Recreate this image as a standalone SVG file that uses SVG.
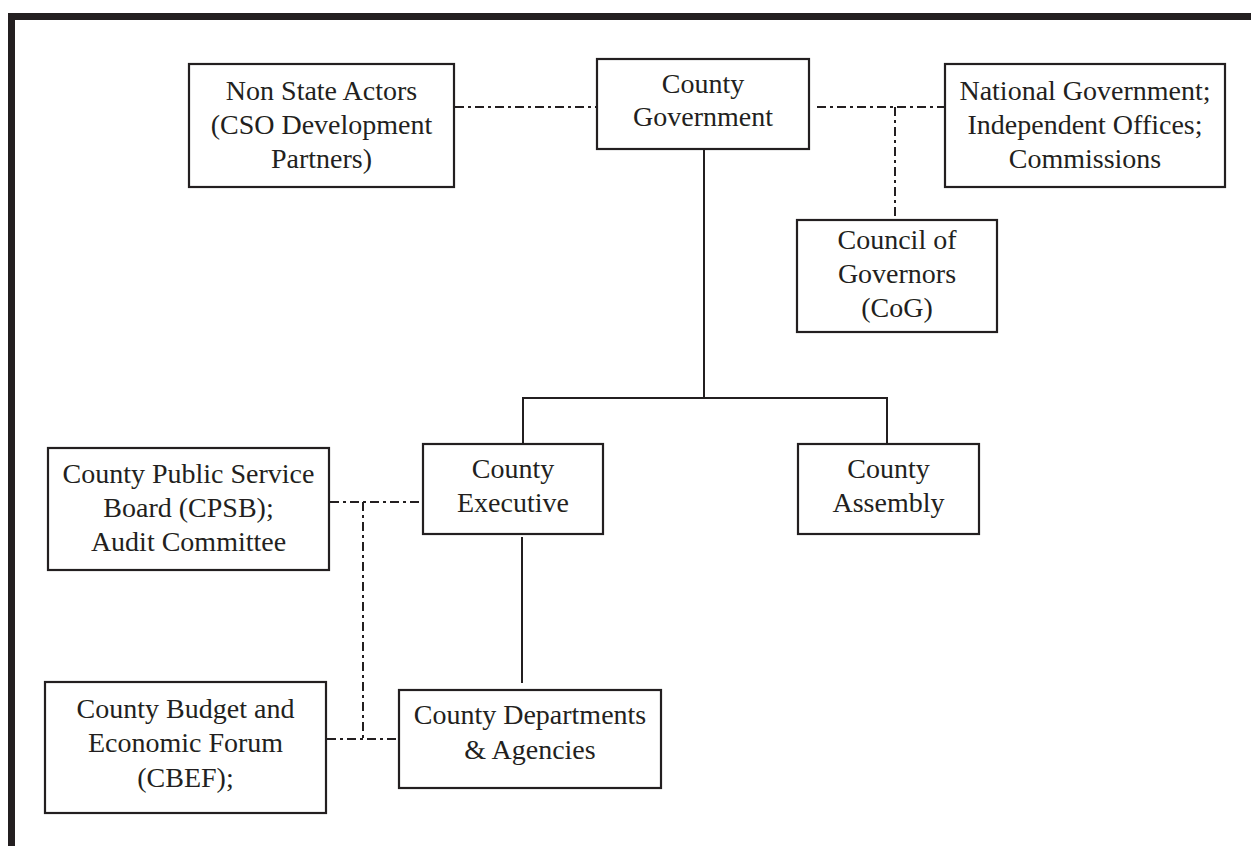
<svg xmlns="http://www.w3.org/2000/svg" width="1251" height="846" viewBox="0 0 1251 846">
<style>
.box{fill:#fff;stroke:#231f20;stroke-width:2.2}
.t{font-family:"Liberation Serif","Times New Roman",serif;font-size:28px;fill:#231f20;text-anchor:middle}
.solid{fill:none;stroke:#231f20;stroke-width:2}
.dash{fill:none;stroke:#231f20;stroke-width:2;stroke-dasharray:9 4 3 4}
</style>
<rect width="1251" height="846" fill="#fff"/>
<g id="frame">
<line x1="8" y1="16.5" x2="1251" y2="16.5" stroke="#231f20" stroke-width="7"/>
<line x1="11.5" y1="13" x2="11.5" y2="846" stroke="#231f20" stroke-width="7"/>
</g>
<g id="connectors">
<line class="dash" x1="455" y1="107" x2="597" y2="107"/>
<line class="dash" x1="817" y1="107" x2="945" y2="107"/>
<line class="dash" x1="895" y1="107" x2="895" y2="219"/>
<line class="solid" x1="704" y1="149" x2="704" y2="398"/>
<polyline class="solid" points="523,444 523,398 887,398 887,444"/>
<line class="solid" x1="522" y1="537" x2="522" y2="683"/>
<line class="dash" x1="330" y1="502" x2="423" y2="502"/>
<line class="dash" x1="363" y1="502" x2="363" y2="739"/>
<line class="dash" x1="327" y1="739" x2="399" y2="739"/>
</g>
<g id="non-state-actors">
<rect class="box" x="189" y="64" width="265" height="123"/>
<text class="t" x="321.5" y="100">Non State Actors</text>
<text class="t" x="321.5" y="134">(CSO Development</text>
<text class="t" x="321.5" y="168">Partners)</text>
</g>
<g id="county-government">
<rect class="box" x="597" y="59" width="212" height="90"/>
<text class="t" x="703" y="93">County</text>
<text class="t" x="703" y="126">Government</text>
</g>
<g id="national-government">
<rect class="box" x="945" y="64" width="280" height="123"/>
<text class="t" x="1085" y="100">National Government;</text>
<text class="t" x="1085" y="134">Independent Offices;</text>
<text class="t" x="1085" y="168">Commissions</text>
</g>
<g id="council-of-governors">
<rect class="box" x="797" y="220" width="200" height="112"/>
<text class="t" x="897" y="249">Council of</text>
<text class="t" x="897" y="283">Governors</text>
<text class="t" x="897" y="317">(CoG)</text>
</g>
<g id="county-executive">
<rect class="box" x="423" y="444" width="180" height="90"/>
<text class="t" x="513" y="478">County</text>
<text class="t" x="513" y="512">Executive</text>
</g>
<g id="county-assembly">
<rect class="box" x="798" y="444" width="181" height="90"/>
<text class="t" x="888.5" y="478">County</text>
<text class="t" x="888.5" y="512">Assembly</text>
</g>
<g id="cpsb">
<rect class="box" x="48" y="448" width="281" height="122"/>
<text class="t" x="188.5" y="483">County Public Service</text>
<text class="t" x="188.5" y="517">Board (CPSB);</text>
<text class="t" x="188.5" y="551">Audit Committee</text>
</g>
<g id="cbef">
<rect class="box" x="45" y="682" width="281" height="131"/>
<text class="t" x="185.5" y="718">County Budget and</text>
<text class="t" x="185.5" y="752">Economic Forum</text>
<text class="t" x="185.5" y="787">(CBEF);</text>
</g>
<g id="county-departments">
<rect class="box" x="399" y="690" width="262" height="98"/>
<text class="t" x="530" y="724">County Departments</text>
<text class="t" x="530" y="759">&amp; Agencies</text>
</g>
</svg>
